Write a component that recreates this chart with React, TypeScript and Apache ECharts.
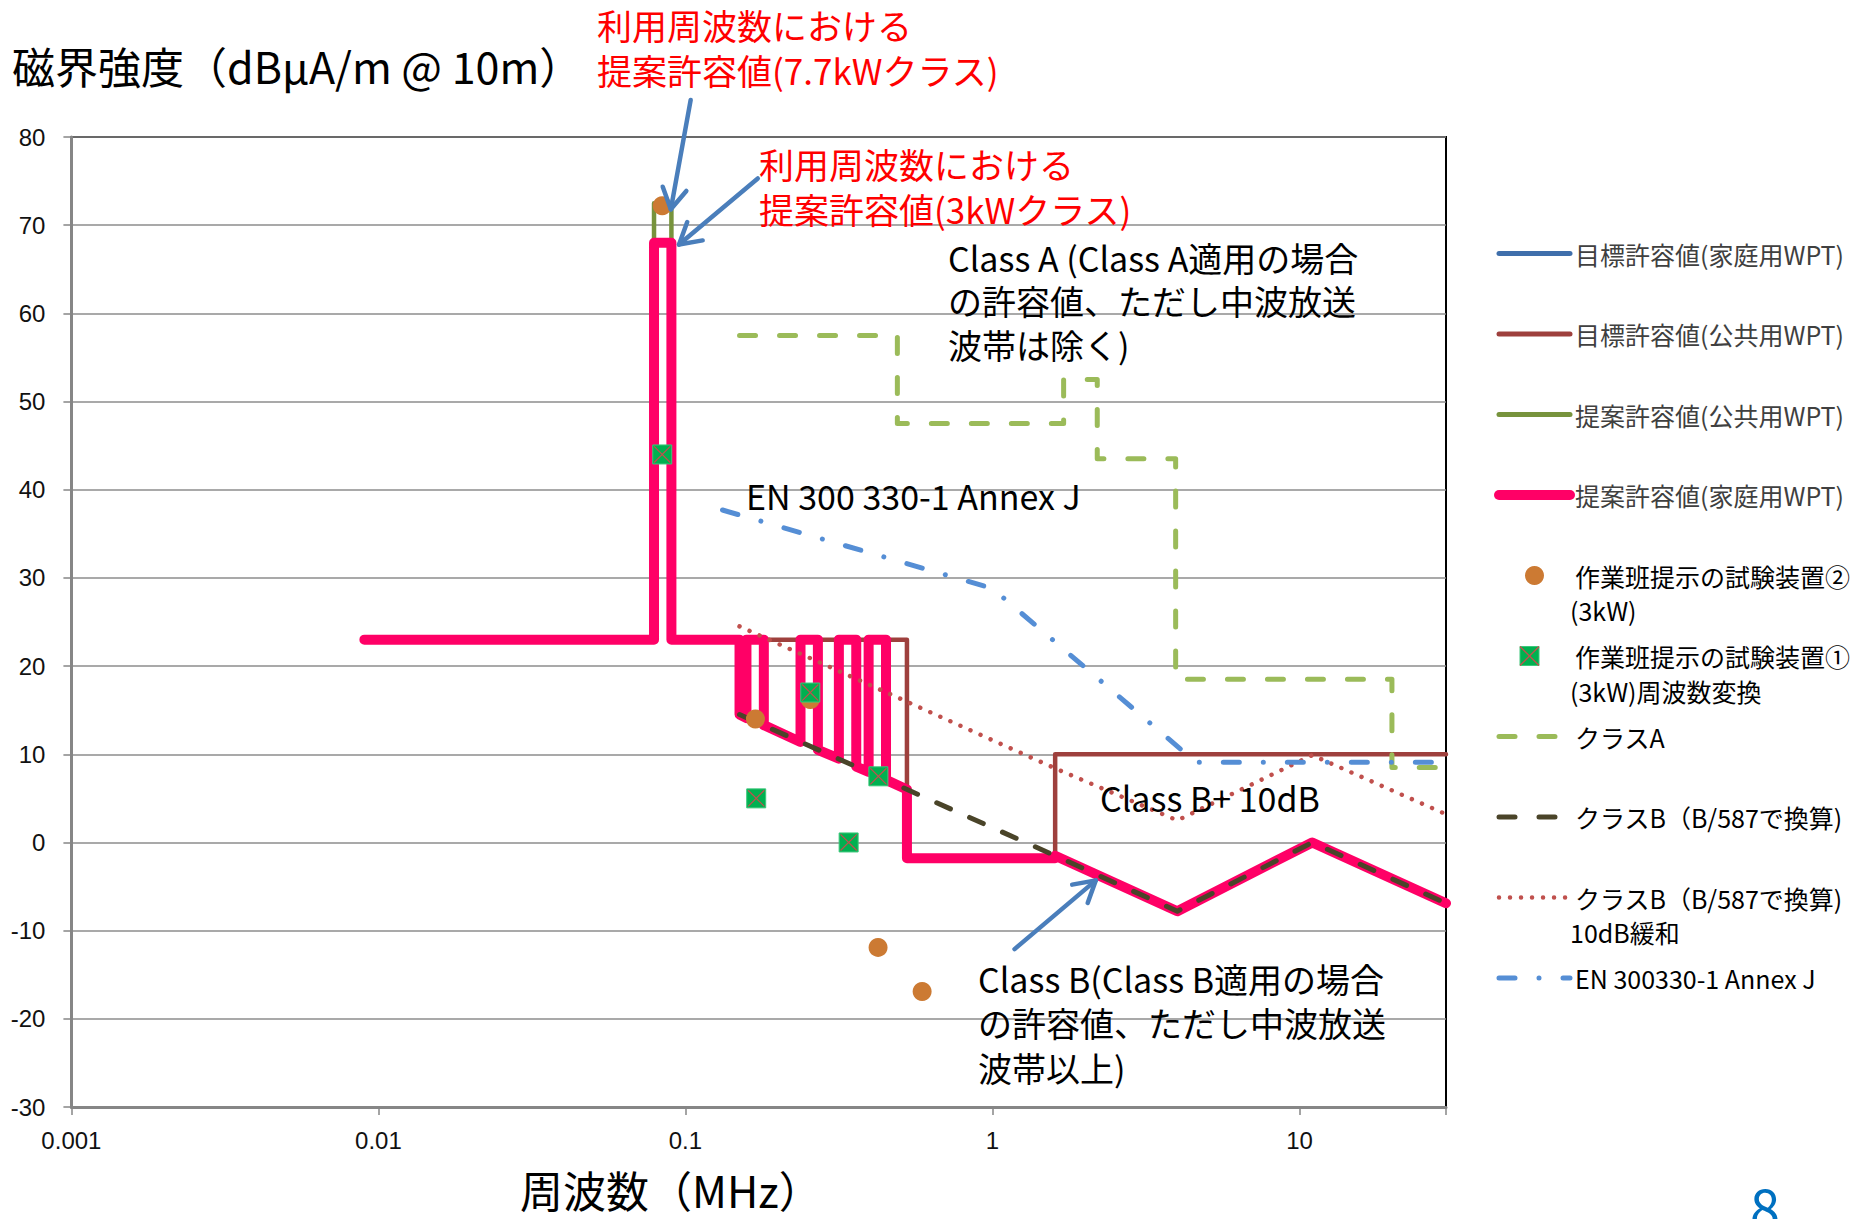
import React, { useEffect, useRef } from 'react';
import * as echarts from 'echarts';

// ---------- data (frequency MHz, field strength dBμA/m @10m) ----------
const FREQ_TICK_LABELS = ['0.001', '0.01', '0.1', '1', '10'];
const Y_MIN = -30;
const Y_MAX = 80;
const Y_STEP = 10;

const targetHome: [number, number][] = [
  [0.009, 23], [0.079, 23], [0.079, 68], [0.09, 68], [0.09, 23], [0.15, 23],
];
const targetPublic: [number, number][] = [
  [0.09, 23], [0.5265, 23], [0.5265, -1.8], [1.6, -1.8], [1.6, 10], [30, 10],
];
const proposedPublic: [number, number][] = [
  [0.009, 23], [0.079, 23], [0.079, 72.5], [0.09, 72.5], [0.09, 23], [0.15, 23],
];
const proposedHome: [number, number][] = [
  [0.009, 23], [0.079, 23], [0.079, 68], [0.09, 68], [0.09, 23], [0.15, 23],
  [0.15, 14.5], [0.158, 14.1], [0.158, 23], [0.18, 23], [0.18, 13.3], [0.237, 11.4],
  [0.237, 23], [0.27, 23], [0.27, 10.5], [0.316, 9.5], [0.316, 23], [0.36, 23],
  [0.36, 8.6], [0.395, 8.0], [0.395, 23], [0.45, 23], [0.45, 7.1], [0.5265, 6.0],
  [0.5265, -1.8], [1.6, -1.8], [1.6, -1.5], [4, -7.8], [11, 0], [30, -6.9],
];
const testDevice2: [number, number][] = [
  [0.084, 72.2], [0.169, 14.0], [0.255, 16.2], [0.424, -11.9], [0.59, -16.9],
];
const testDevice1: [number, number][] = [
  [0.084, 44], [0.17, 5], [0.255, 17], [0.34, 0], [0.425, 7.5],
];
const classA: [number, number][] = [
  [0.15, 57.5], [0.49, 57.5], [0.49, 47.5], [1.705, 47.5], [1.705, 52.5], [2.194, 52.5],
  [2.194, 43.5], [3.95, 43.5], [3.95, 18.5], [20, 18.5], [20, 8.5], [30, 8.5],
];
const classB: [number, number][] = [
  [0.15, 14.5], [1.6, -1.5], [4, -7.8], [11, 0], [30, -6.9],
];
const classB10: [number, number][] = [
  [0.15, 24.5], [1.6, 8.4], [4, 2.5], [11, 9.9], [30, 3.2],
];
const enAnnexJ: [number, number][] = [
  [0.132, 37.7], [1.0, 28.8], [4.6, 9.1], [30, 9.1],
];

const NAMES = {
  tHome: '目標許容値(家庭用WPT)',
  tPub: '目標許容値(公共用WPT)',
  pPub: '提案許容値(公共用WPT)',
  pHome: '提案許容値(家庭用WPT)',
  dev2: '作業班提示の試験装置②(3kW)',
  dev1: '作業班提示の試験装置①(3kW)周波数変換',
  cA: 'クラスA',
  cB: 'クラスB（B/587で換算)',
  cB10: 'クラスB（B/587で換算)10dB緩和',
  en: 'EN 300330-1 Annex J',
};
const LEGEND_FIRST_LINE: Record<string, string> = {
  [NAMES.dev2]: '作業班提示の試験装置②',
  [NAMES.dev1]: '作業班提示の試験装置①',
  [NAMES.cB10]: 'クラスB（B/587で換算)',
};
const LEGEND_SECOND_LINES: [number, string][] = [
  [4, '(3kW)'],
  [5, '(3kW)周波数変換'],
  [8, '10dB緩和'],
];

// ---------- styles ----------
const C = {
  blue: '#3f6fab',
  brown: '#9e403d',
  olive: '#77933c',
  pink: '#ff0066',
  orange: '#cc7a33',
  sq: '#00b050',
  xred: '#c0504d',
  classA: '#9bbb59',
  classB: '#4a4429',
  dotted: '#c0504d',
  en: '#558ed5',
  arrow: '#4a7ebb',
};
const CJK = '"Noto Sans CJK JP", "Noto Sans", sans-serif';
const NUM = '"Liberation Sans", Arial, sans-serif';

const GRID = { left: 71.4, top: 137, width: 1374.6, height: 970 };
const LEGEND_LEFT = 1494;
const LEGEND_TOP = 240.5;
const LEGEND_ROW = 26;
const LEGEND_STEP = 80.5;
const LEGEND_ICON_W = 71;

const X_PATH = 'path://M0,1 L1,0 L20,19 L19,20 Z M19,0 L20,1 L1,20 L0,19 Z';
const SQUARE_PATH = 'path://M0,0 L10,0 L10,10 L0,10 Z';
const HIDDEN_SYMBOL = { color: 'rgba(0,0,0,0)', borderColor: 'rgba(0,0,0,0)', borderWidth: 0, opacity: 0 };

function lineSeries(name: string, data: [number, number][], color: string, width: number, type: any = 'solid', z = 2) {
  return {
    name,
    type: 'line',
    data,
    symbol: 'none',
    z,
    lineStyle: { color, width, type, cap: 'round', join: 'round' },
    itemStyle: { color },
    emphasis: { disabled: true },
  };
}

export default function App() {
  const ref = useRef<HTMLDivElement>(null);

  useEffect(() => {
    document.body.style.margin = '0';
    const chart = echarts.init(ref.current!, null, { renderer: 'svg' });

    const lineItem = (name: string, color: string, width: number, type: any, textColor = '#000000') => ({
      name,
      lineStyle: { width, color, type, cap: 'round' },
      itemStyle: HIDDEN_SYMBOL,
      textStyle: { color: textColor },
    });

    const legendData = [
      lineItem(NAMES.tHome, C.blue, 5, 'solid', '#404040'),
      lineItem(NAMES.tPub, C.brown, 5, 'solid', '#404040'),
      lineItem(NAMES.pPub, C.olive, 5, 'solid', '#404040'),
      lineItem(NAMES.pHome, C.pink, 10, 'solid', '#404040'),
      { name: NAMES.dev2, icon: 'circle' },
      { name: NAMES.dev1, icon: SQUARE_PATH, itemStyle: HIDDEN_SYMBOL },
      lineItem(NAMES.cA, C.classA, 5, [16, 24]),
      lineItem(NAMES.cB, C.classB, 5, [16, 24]),
      lineItem(NAMES.cB10, C.dotted, 4.5, [0.01, 11]),
      lineItem(NAMES.en, C.en, 5, [16, 24, 0.01, 24]),
    ];

    const option: any = {
      animation: false,
      backgroundColor: '#ffffff',
      grid: {
        left: GRID.left, top: GRID.top, width: GRID.width, height: GRID.height,
        show: true, borderColor: '#000000', borderWidth: 2, backgroundColor: 'transparent',
      },
      legend: {
        orient: 'vertical',
        left: LEGEND_LEFT,
        top: LEGEND_TOP,
        padding: 0,
        itemGap: LEGEND_STEP - LEGEND_ROW,
        itemWidth: LEGEND_ICON_W,
        itemHeight: 19,
        selectedMode: false,
        textStyle: { fontFamily: CJK, fontSize: 25, color: '#000000', lineHeight: LEGEND_ROW },
        formatter: (name: string) => LEGEND_FIRST_LINE[name] ?? name,
        data: legendData,
      },
      xAxis: {
        type: 'log',
        logBase: 10,
        min: 0.001,
        max: 30,
        axisLine: { show: true, onZero: false, lineStyle: { color: '#868686', width: 3 } },
        axisTick: { show: true, inside: false, length: 8, lineStyle: { color: '#868686', width: 1.5 } },
        splitLine: { show: false },
        minorTick: { show: false },
        axisLabel: {
          margin: 21,
          fontFamily: NUM,
          fontSize: 24,
          color: '#111111',
          formatter: (v: number) => {
            const e = Math.log10(v);
            const r = Math.round(e);
            if (Math.abs(e - r) > 1e-6) return '';
            return FREQ_TICK_LABELS[r + 3] ?? '';
          },
        },
      },
      yAxis: {
        type: 'value',
        min: Y_MIN,
        max: Y_MAX,
        interval: Y_STEP,
        axisLine: { show: true, lineStyle: { color: '#868686', width: 3 } },
        axisTick: { show: true, inside: false, length: 8, lineStyle: { color: '#868686', width: 1.5 } },
        splitLine: { show: true, lineStyle: { color: '#8c8c8c', width: 1.5 } },
        axisLabel: { margin: 26, fontFamily: NUM, fontSize: 24, color: '#111111' },
      },
      series: [
        lineSeries(NAMES.tHome, targetHome, C.blue, 4),
        lineSeries(NAMES.tPub, targetPublic, C.brown, 4.5),
        lineSeries(NAMES.pPub, proposedPublic, C.olive, 4.5),
        lineSeries(NAMES.pHome, proposedHome, C.pink, 10),
        {
          name: NAMES.dev2, type: 'scatter', data: testDevice2, symbol: 'circle', symbolSize: 19, z: 4,
          itemStyle: { color: C.orange, opacity: 1 }, emphasis: { disabled: true },
        },
        {
          name: NAMES.dev1, type: 'scatter', data: testDevice1, symbol: 'rect', symbolSize: 19, z: 5,
          itemStyle: { color: C.sq, borderColor: '#3cc77a', borderWidth: 1, opacity: 1 }, emphasis: { disabled: true },
        },
        {
          name: 'dev1-x', type: 'scatter', data: testDevice1, symbol: X_PATH, symbolSize: 17, z: 6, silent: true,
          itemStyle: { color: C.xred, opacity: 1 }, emphasis: { disabled: true },
        },
        lineSeries(NAMES.cA, classA, C.classA, 5, [16, 24]),
        lineSeries(NAMES.cB, classB, C.classB, 5, [15, 21]),
        lineSeries(NAMES.cB10, classB10, C.dotted, 4.5, [0.01, 11]),
        lineSeries(NAMES.en, enAnnexJ, C.en, 5, [16, 24, 0.01, 24]),
      ],
    };
    chart.setOption(option);

    const px = (p: [number, number]) => chart.convertToPixel({ gridIndex: 0 }, p) as number[];

    const arrows: [[number, number], [number, number]][] = [
      [[0.104, 84.2], [0.0896, 71.8]],
      [[0.172, 75.3], [0.0953, 67.8]],
      [[1.18, -12.1], [2.17, -4.3]],
    ];
    const graphics: any[] = [];
    arrows.forEach(([from, to]) => {
      const a = px(from);
      const b = px(to);
      const dx = b[0] - a[0];
      const dy = b[1] - a[1];
      const len = Math.hypot(dx, dy);
      const ux = -dx / len;
      const uy = -dy / len;
      const L = 24;
      const ang = Math.PI / 6;
      const rot = (t: number) => [
        b[0] + L * (ux * Math.cos(t) - uy * Math.sin(t)),
        b[1] + L * (ux * Math.sin(t) + uy * Math.cos(t)),
      ];
      graphics.push({
        type: 'line', z: 50,
        shape: { x1: a[0], y1: a[1], x2: b[0], y2: b[1] },
        style: { stroke: C.arrow, lineWidth: 4.5, lineCap: 'round' },
      });
      graphics.push({
        type: 'polyline', z: 50,
        shape: { points: [rot(ang), [b[0], b[1]], rot(-ang)] },
        style: { stroke: C.arrow, lineWidth: 4.5, lineCap: 'round', lineJoin: 'round', fill: null },
      });
    });

    // multi-line text block: firstCenterY is the centre of the first line
    const block = (text: string, x: number, firstCenterY: number, fontSize: number, lineH: number, fill = '#000000') => ({
      type: 'text', x, y: firstCenterY - lineH / 2, z: 40,
      style: { text, fontSize, fontFamily: CJK, fill, align: 'left', verticalAlign: 'top', lineHeight: lineH },
    });

    graphics.push(block('磁界強度（dBμA/m @ 10m）', 12, 65, 43, 50));
    graphics.push(block('周波数（MHz）', 520, 1189, 43, 50));
    graphics.push(block('利用周波数における\n提案許容値(7.7kWクラス)', 597, 24, 35, 45, '#ff0000'));
    graphics.push(block('利用周波数における\n提案許容値(3kWクラス)', 759, 163, 35, 45, '#ff0000'));
    graphics.push(block('Class A (Class A適用の場合\nの許容値、ただし中波放送\n波帯は除く)', 948, 257, 34, 43.5));
    graphics.push(block('EN 300 330-1 Annex J', 746, 495, 34, 40));
    graphics.push(block('Class B+ 10dB', 1100, 797, 34, 40));
    graphics.push(block('Class B(Class B適用の場合\nの許容値、ただし中波放送\n波帯以上)', 978, 978, 34, 44.5));
    graphics.push({
      type: 'text', x: 1765, y: 1178, z: 40,
      style: { text: '8', fontSize: 54, fontFamily: CJK, fill: '#0070c0', align: 'center', verticalAlign: 'top' },
    });

    // legend second lines
    const rowCenter = (i: number) => LEGEND_TOP + i * LEGEND_STEP + LEGEND_ROW / 2;
    LEGEND_SECOND_LINES.forEach(([i, t]) => {
      graphics.push(block(t, LEGEND_LEFT + LEGEND_ICON_W + 5, rowCenter(i) + 34.5, 25, 30));
    });
    // square-with-cross legend icon for 試験装置①
    const cx = LEGEND_LEFT + LEGEND_ICON_W / 2;
    const cy = rowCenter(5);
    const h = 9.5;
    graphics.push({
      type: 'rect', z: 59, shape: { x: cx - h, y: cy - h, width: 2 * h, height: 2 * h },
      style: { fill: C.sq, stroke: '#3cc77a', lineWidth: 1 },
    });
    graphics.push({
      type: 'line', z: 60, shape: { x1: cx - h, y1: cy - h, x2: cx + h, y2: cy + h },
      style: { stroke: C.xred, lineWidth: 1.5 },
    });
    graphics.push({
      type: 'line', z: 60, shape: { x1: cx + h, y1: cy - h, x2: cx - h, y2: cy + h },
      style: { stroke: C.xred, lineWidth: 1.5 },
    });

    chart.setOption({ graphic: graphics });

    return () => chart.dispose();
  }, []);

  return (
    <div
      ref={ref}
      style={{ position: 'absolute', left: 0, top: 0, width: 1866, height: 1219, background: '#ffffff' }}
    />
  );
}
